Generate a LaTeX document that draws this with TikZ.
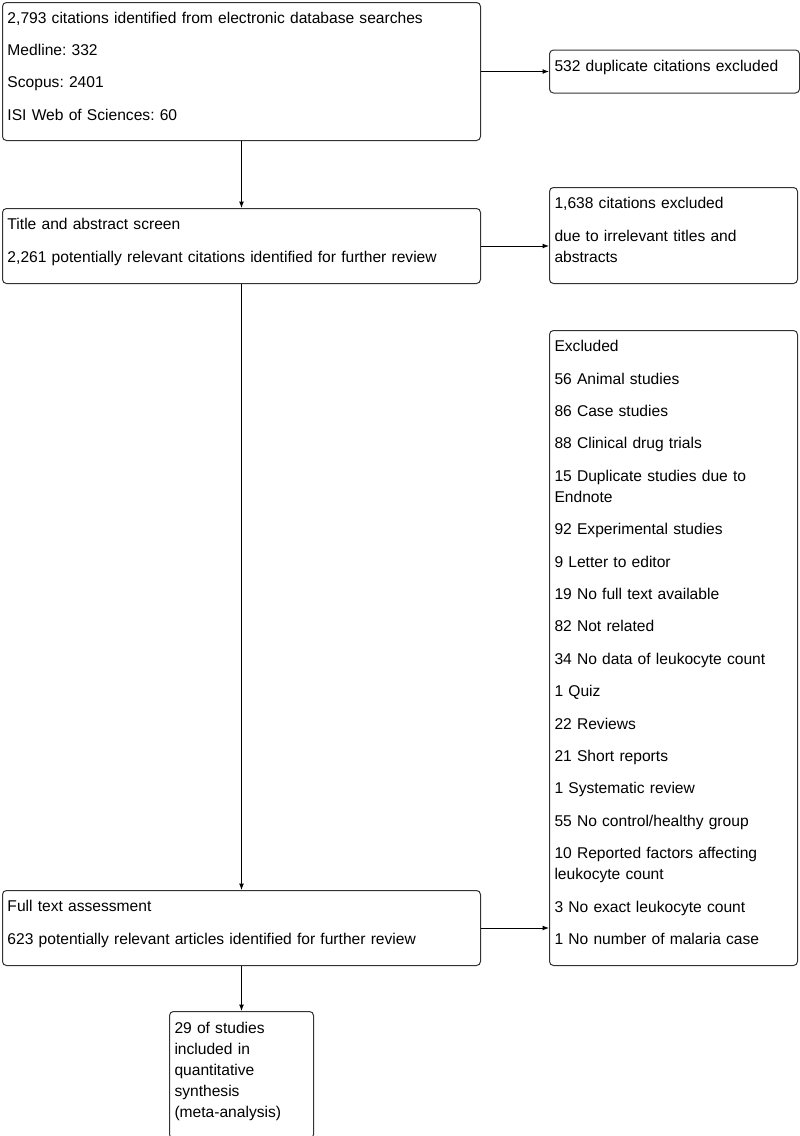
\documentclass[tikz,border=0pt]{standalone}
\usepackage{fontspec}
\setmainfont{Liberation Sans}
\usetikzlibrary{arrows.meta,positioning}
\newcommand{\pgap}{\\[11.4pt]}
\frenchspacing

\begin{document}
\begin{tikzpicture}[
  box/.style={draw=black!80,line width=1pt,rounded corners=4pt,fill=white,align=left,
    inner xsep=5pt,inner ysep=0pt,font=\fontsize{15.6pt}{21pt}\selectfont,
    execute at begin node={\strut},execute at end node={\rule[-14.5pt]{0pt}{14.5pt}}},
  arrow/.style={-{Latex[length=6.5pt,width=5pt]},line width=1pt,draw=black}]
\useasboundingbox (0,0) rectangle (800pt,-1136pt);
\node[box,text width=468pt,minimum height=138pt,anchor=north west](search) at (2pt,-2pt)
  {2,793 citations identified from electronic database searches\pgap Medline: 332\pgap Scopus: 2401\pgap ISI Web of Sciences: 60};
\node[box,text width=240pt,minimum height=43pt,right=68pt of search](dup){532 duplicate citations excluded};
\node[box,text width=468pt,minimum height=75pt,below=67pt of search](title)
  {Title and abstract screen\pgap 2,261 potentially relevant citations identified for further review};
\node[box,text width=238pt,minimum height=96pt,right=68pt of title.south east,anchor=south west](irrel)
  {1,638 citations excluded\pgap due to irrelevant titles and\\abstracts};
\node[box,text width=468pt,minimum height=75pt,below=606pt of title](full)
  {Full text assessment\pgap 623 potentially relevant articles identified for further review};
\node[box,text width=238pt,minimum height=635pt,right=68pt of full.south east,anchor=south west](excl)
  {Excluded\pgap 56 Animal studies\pgap 86 Case studies\pgap 88 Clinical drug trials\pgap
   15 Duplicate studies due to\\Endnote\pgap 92 Experimental studies\pgap 9 Letter to editor\pgap
   19 No full text available\pgap 82 Not related\pgap 34 No data of leukocyte count\pgap 1 Quiz\pgap
   22 Reviews\pgap 21 Short reports\pgap 1 Systematic review\pgap 55 No control/healthy group\pgap
   10 Reported factors affecting\\leukocyte count\pgap 3 No exact leukocyte count\pgap 1 No number of malaria case};
\node[box,text width=134pt,minimum height=127pt,below=45pt of full](final)
  {29 of studies\\included in\\quantitative\\synthesis\\(meta-analysis)};
\draw[arrow](search)--(title);\draw[arrow](title)--(full);\draw[arrow](full)--(final);
\draw[arrow](search)--(dup);
\draw[arrow](title.east)--(title.east-|irrel.west);
\draw[arrow](full.east)--(full.east-|excl.west);
\end{tikzpicture}
\end{document}
